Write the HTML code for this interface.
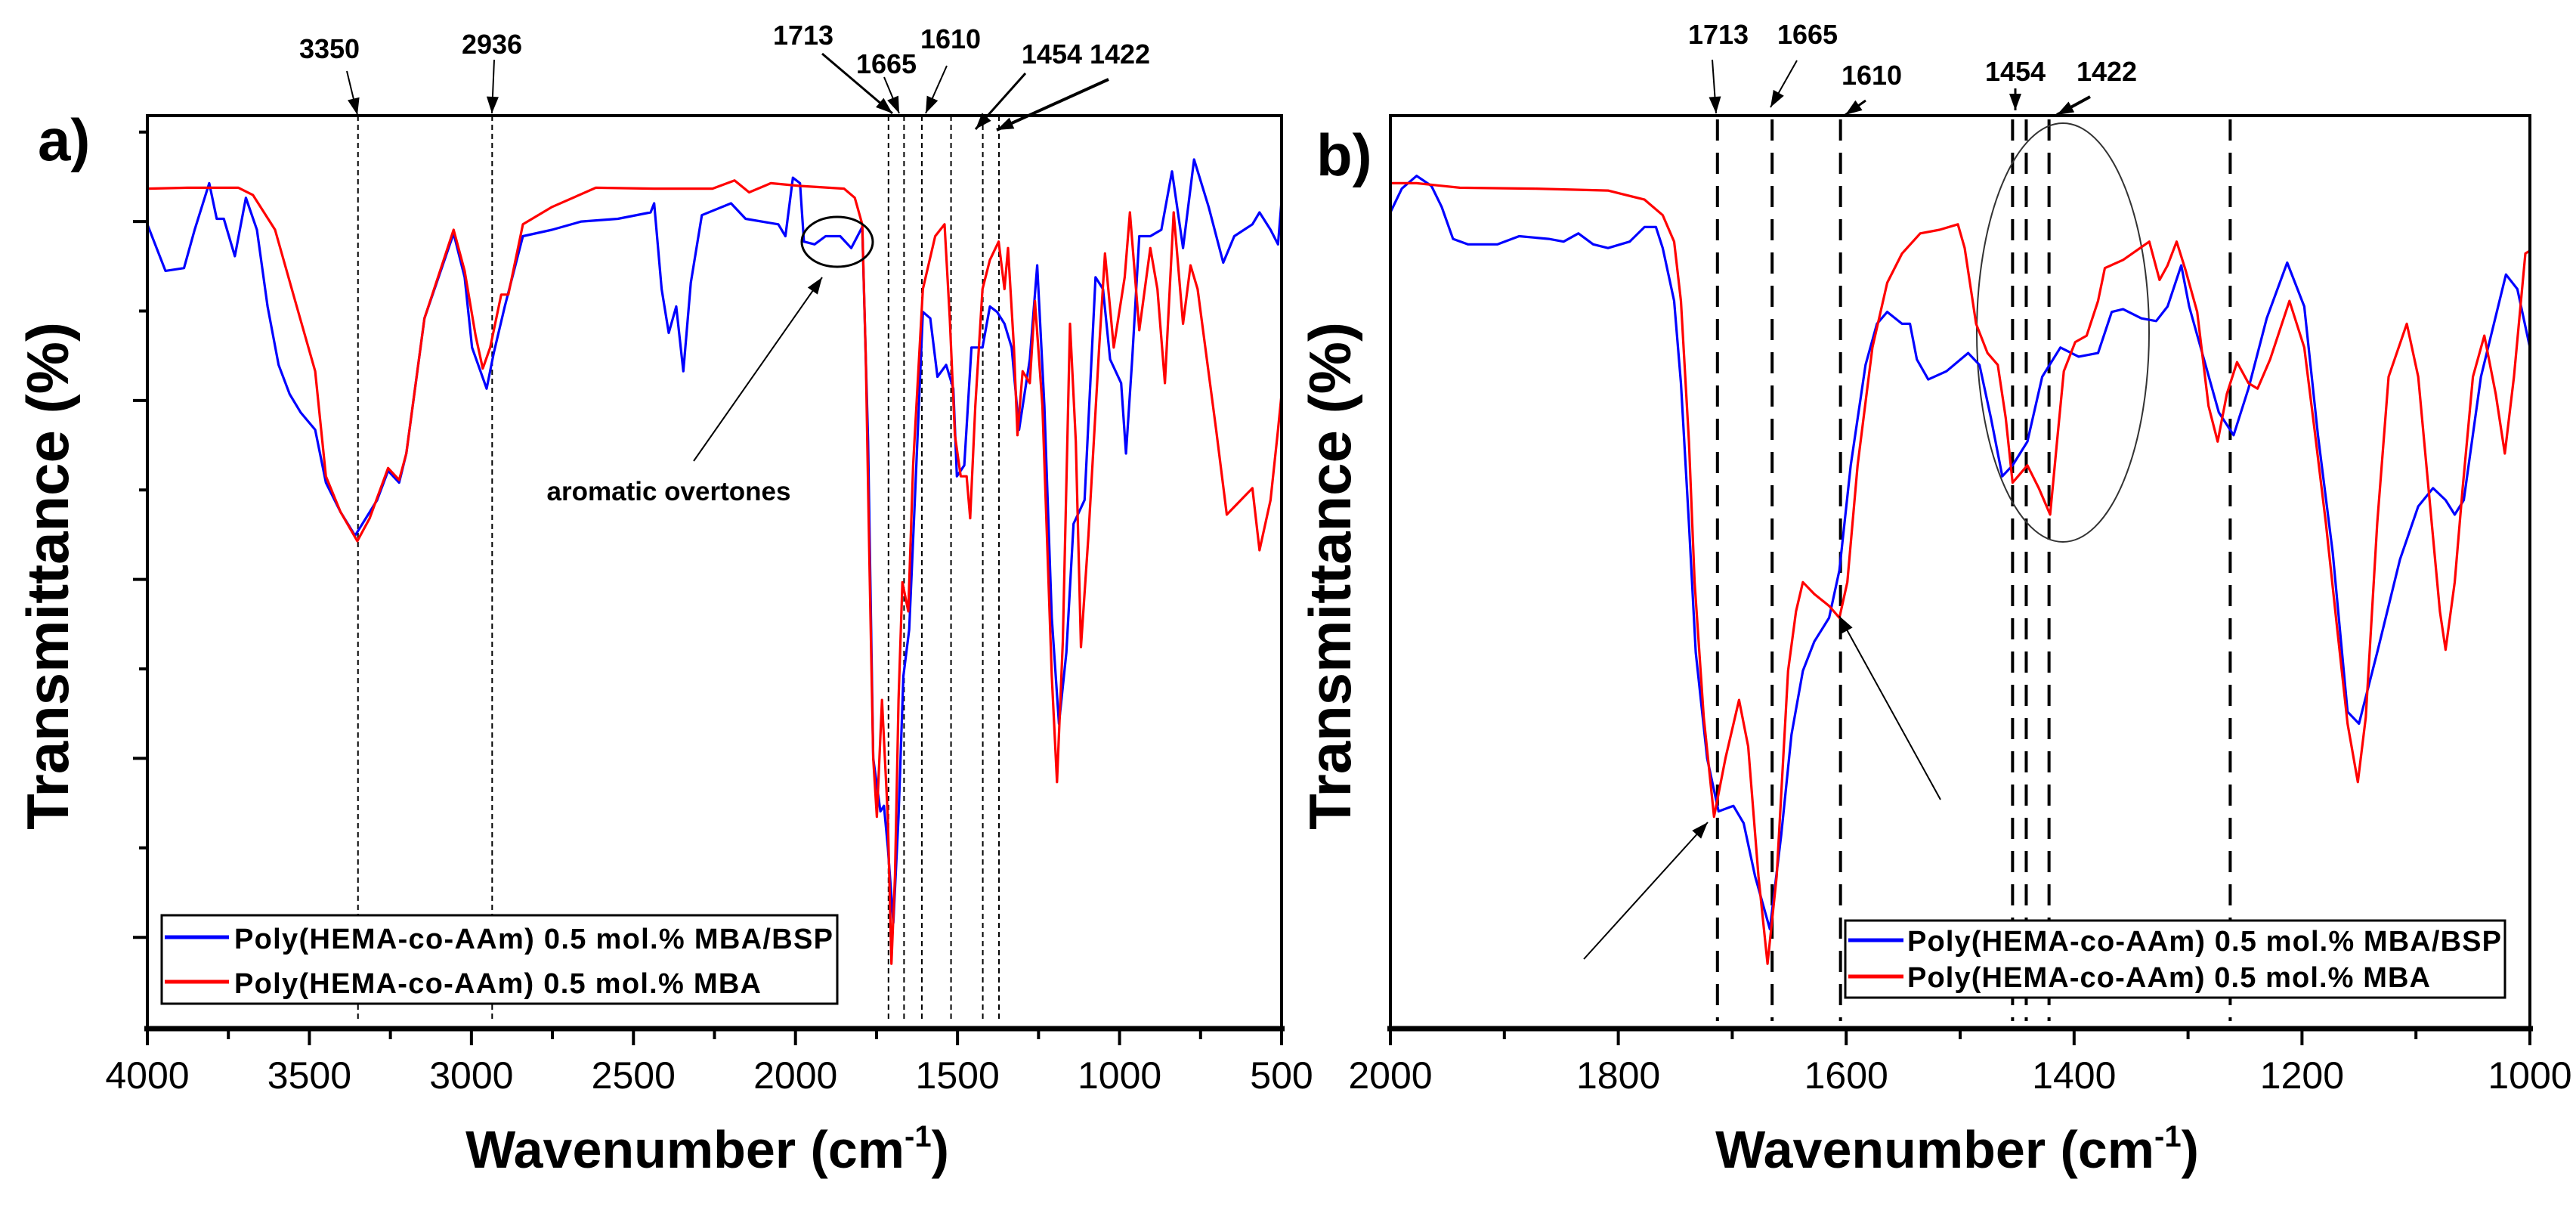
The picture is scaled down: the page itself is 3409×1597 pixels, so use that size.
<!DOCTYPE html>
<html><head><meta charset="utf-8"><style>
html,body{margin:0;padding:0;background:#fff;}
svg{display:block;font-family:"Liberation Sans",Arial,sans-serif;}
</style></head><body>
<svg id="chart" width="3409" height="1597" viewBox="0 0 3409 1597" xmlns="http://www.w3.org/2000/svg">
<defs>
<marker id="ah" viewBox="0 0 10 10" refX="9" refY="5" markerWidth="7" markerHeight="7" orient="auto-start-reverse" markerUnits="userSpaceOnUse" style="overflow:visible">
<path d="M0,0 L10,5 L0,10 z" fill="#000" transform="scale(2.4) translate(-6,-5) translate(0,0)"/>
</marker>
</defs>
<g id="root"></g>
</svg>
<script>
// ---------- DATA: panel a (full range) ----------
const aRedW = [4000,3876,3719,3674,3606,3539,3482,3449,3404,3352,3314,3257,3223,3201,3145,3055,3021,2987,2965,2942,2908,2886,2841,2751,2616,2436,2256,2188,2143,2076,1986,1850,1817,1794,1783,1772,1760,1749,1733,1715,1704,1693,1682,1670,1652,1637,1607,1569,1540,1524,1508,1490,1472,1461,1445,1423,1400,1373,1355,1344,1326,1315,1299,1277,1261,1238,1209,1193,1175,1153,1135,1119,1096,1063,1045,1018,984,968,939,905,883,860,833,804,781,759,702,669,590,568,534,511,500];
const aRedT = [92.0,92.1,92.1,91.3,87.5,79.1,72.0,60.5,56.6,53.4,55.9,61.4,60.1,63.0,77.8,87.5,83.0,75.9,72.3,74.6,80.4,80.4,88.1,90.0,92.1,92.0,92.0,92.9,91.6,92.6,92.3,92.0,91.0,88.1,73.3,51.4,29.6,23.2,36.0,23.2,7.1,16.7,36.0,48.9,45.7,61.7,81.0,86.8,88.1,77.8,65.0,60.5,60.5,55.9,68.2,81.0,84.2,86.2,81.0,85.5,74.6,65.0,72.0,70.7,79.7,68.2,38.6,27.0,42.4,77.2,64.3,41.8,54.0,74.6,84.9,74.6,82.3,89.4,76.5,85.5,81.0,70.7,89.4,77.2,83.6,81.0,65.6,56.3,59.2,52.4,57.9,65.6,69.5];
const aBlueW = [4000,3944,3887,3854,3809,3786,3764,3730,3696,3662,3629,3595,3561,3527,3482,3449,3404,3359,3291,3257,3223,3201,3145,3055,3021,2998,2953,2931,2897,2841,2751,2661,2548,2447,2436,2413,2391,2368,2346,2323,2289,2199,2154,2053,2031,2008,1986,1974,1941,1907,1862,1828,1794,1783,1776,1760,1738,1727,1715,1698,1682,1667,1649,1631,1607,1584,1562,1535,1513,1502,1479,1457,1423,1400,1378,1355,1333,1310,1277,1254,1232,1209,1187,1164,1142,1108,1074,1051,1029,995,980,961,939,905,871,838,804,770,725,680,646,590,568,534,511,500];
const aBlueT = [88.1,83.0,83.3,87.5,92.6,88.7,88.7,84.6,91.0,87.5,79.1,72.7,69.5,67.5,65.6,59.8,56.6,54.0,57.9,61.1,59.8,63.0,77.8,87.1,82.3,74.6,70.1,74.0,79.1,86.8,87.5,88.4,88.7,89.4,90.4,81.0,76.2,79.1,72.0,81.7,89.1,90.4,88.7,88.1,86.8,93.2,92.6,86.2,85.9,86.8,86.8,85.5,87.8,73.3,64.3,29.6,23.8,24.4,19.9,11.6,23.2,38.6,43.7,58.5,78.5,77.8,71.4,72.7,70.1,60.5,61.7,74.6,74.6,79.1,78.5,77.2,74.6,65.6,73.3,83.6,68.2,45.0,33.4,41.2,55.3,57.9,82.3,81.0,73.3,70.7,63.0,73.3,86.8,86.8,87.5,93.9,85.5,95.2,90.0,83.9,86.8,88.1,89.4,87.5,85.9,90.7];
// ---------- DATA: panel b (2000-1000) ----------
const bRedW = [2000,1977,1939,1874,1809,1777,1761,1751,1745,1738,1733,1725,1716,1706,1694,1686,1677,1669,1661,1651,1644,1638,1628,1615,1606,1599,1590,1577,1564,1551,1535,1518,1502,1496,1486,1476,1467,1460,1454,1441,1431,1421,1415,1409,1399,1389,1379,1373,1357,1334,1325,1318,1310,1302,1292,1282,1274,1266,1257,1247,1239,1228,1211,1198,1189,1179,1169,1160,1151,1144,1134,1124,1108,1098,1089,1079,1074,1066,1059,1050,1040,1030,1022,1014,1004,1000];
const bRedT = [92.6,92.6,92.1,92.0,91.8,90.8,89.1,86.2,79.7,64.3,48.9,34.1,23.2,29.6,36.0,30.9,16.7,7.1,16.7,39.2,45.7,48.9,47.6,46.3,45.0,48.9,61.7,74.6,81.7,84.9,87.1,87.5,88.1,85.5,77.2,74.0,72.7,66.9,59.8,61.7,59.2,56.3,64.3,72.0,75.2,75.9,79.7,83.3,84.2,86.2,82.0,83.6,86.2,83.0,78.5,68.2,64.3,69.5,73.0,70.7,70.1,73.3,79.7,74.6,65.6,55.3,43.7,33.4,27.0,34.1,55.3,71.4,77.2,71.4,59.2,45.7,41.5,48.9,59.2,71.4,75.9,69.5,63.0,71.4,84.9,85.2];
const bBlueW = [2000,1990,1977,1964,1955,1945,1932,1906,1887,1861,1848,1835,1822,1809,1790,1777,1767,1761,1751,1745,1738,1732,1722,1712,1699,1690,1680,1667,1657,1648,1638,1628,1615,1606,1596,1583,1573,1564,1551,1544,1538,1528,1512,1493,1483,1473,1463,1454,1441,1428,1412,1396,1379,1367,1357,1341,1328,1318,1306,1299,1286,1273,1260,1247,1231,1213,1198,1186,1173,1160,1150,1134,1114,1098,1085,1074,1066,1058,1043,1021,1011,1000];
const bBlueT = [89.4,92.0,93.4,92.3,90.0,86.5,85.9,85.9,86.8,86.5,86.2,87.1,85.9,85.5,86.2,87.8,87.8,85.5,79.7,70.7,55.3,41.2,29.6,23.8,24.4,22.5,16.7,10.9,21.2,32.2,39.2,42.4,45.0,50.2,61.7,72.7,77.2,78.5,77.2,77.2,73.3,71.1,72.0,74.0,72.7,66.9,60.5,61.7,64.3,71.4,74.6,73.6,74.0,78.5,78.8,77.8,77.5,79.1,83.6,79.1,73.3,67.5,65.0,70.1,77.8,83.9,79.1,65.0,52.1,34.7,33.4,41.2,51.4,57.2,59.2,57.9,56.3,57.9,71.4,82.6,81.0,74.6];
// ticks / labels
const aXTicks = [4000,3500,3000,2500,2000,1500,1000,500];
const aXMinor = [3750,3250,2750,2250,1750,1250,750];
const bXTicks = [2000,1800,1600,1400,1200,1000];
const bXMinor = [1900,1700,1500,1300,1100];
const aYTicks = [98.2,88.4,78.6,68.8,59.0,49.2,39.4,29.6,19.8,10.0];
const aPeaks = [3350,2936,1713,1665,1610,1520,1422,1372];
const bPeaks = [1713,1665,1605,1454,1442,1422,1263];
const legendLabels = ["Poly(HEMA-co-AAm) 0.5 mol.% MBA/BSP","Poly(HEMA-co-AAm) 0.5 mol.% MBA"];

const NS="http://www.w3.org/2000/svg";
const root=document.getElementById('root');
function mk(tag,attrs,parent){const e=document.createElementNS(NS,tag);for(const k in attrs)e.setAttribute(k,attrs[k]);(parent||root).appendChild(e);return e;}
const TOP=153,BOT=1361;
function yS(v){return BOT-(v/100)*(BOT-TOP);}
function xA(w){return 195+(4000-w)/3500*(1696-195);}
function xB(w){return 1840+(2000-w)/1000*(3348-1840);}

function series(W,T,xf,color,name){
  let d='';for(let i=0;i<W.length;i++){d+=(i?'L':'M')+xf(W[i]).toFixed(1)+','+yS(T[i]).toFixed(1);}
  const p=mk('path',{d:d,fill:'none',stroke:color,'stroke-width':3.2,'stroke-linejoin':'round'});
  
  
}
function text(x,y,s,size,weight,anchor,name,extra){
  const t=mk('text',Object.assign({x:x,y:y,'font-size':size,'font-weight':weight,'text-anchor':anchor,fill:'#000'},extra||{}));
  t.textContent=s;
  
  
  return t;
}
function arrow(x1,y1,x2,y2,w,name){
  const l=mk('line',{x1:x1,y1:y1,x2:x2,y2:y2,stroke:'#000','stroke-width':w});
  
  
  const a=Math.atan2(y2-y1,x2-x1),L=22,H=8;
  const bx=x2-L*Math.cos(a),by=y2-L*Math.sin(a);
  const p=mk('polygon',{points:`${x2},${y2} ${bx+H*Math.sin(a)},${by-H*Math.cos(a)} ${bx-H*Math.sin(a)},${by+H*Math.cos(a)}`,fill:'#000'});
  
  
}

// ===== Panel a =====
aPeaks.forEach(w=>{const l=mk('line',{x1:xA(w),y1:TOP,x2:xA(w),y2:1351,stroke:'#000','stroke-width':2,'stroke-dasharray':'7,5'});
  
  });
series(aBlueW,aBlueT,xA,'#0000ff','series-a-mba-bsp');
series(aRedW,aRedT,xA,'#ff0000','series-a-mba');
const fa=mk('rect',{x:195,y:TOP,width:1501,height:BOT-TOP,fill:'none',stroke:'#000','stroke-width':4});


mk('line',{x1:191,y1:BOT,x2:1700,y2:BOT,stroke:'#000','stroke-width':7});
aXTicks.forEach(w=>{mk('line',{x1:xA(w),y1:BOT,x2:xA(w),y2:BOT+22,stroke:'#000','stroke-width':4});
  text(xA(w),1440,String(w),50,'normal','middle','x-tick-label-a');});
aXMinor.forEach(w=>{mk('line',{x1:xA(w),y1:BOT,x2:xA(w),y2:BOT+14,stroke:'#000','stroke-width':4});});
aYTicks.forEach((v,i)=>{mk('line',{x1:i%2?176:184,y1:yS(v),x2:195,y2:yS(v),stroke:'#000','stroke-width':4});});
text(936,1545,'Wavenumber (cm',70,'bold','middle','x-axis-title-a').innerHTML='Wavenumber (cm<tspan dy="-28" font-size="40">-1</tspan><tspan dy="28">)</tspan>';
text(0,0,'Transmittance (%)',78,'bold','middle','y-axis-title-a',{transform:'translate(90,762) rotate(-90)'});
text(50,212,'a)',78,'bold','start','panel-label-a');
// top annotations a
text(436,77,'3350',36,'bold','middle','peak-label-3350');
text(651,71,'2936',36,'bold','middle','peak-label-2936');
text(1063,59,'1713',36,'bold','middle','peak-label-1713');
text(1173,97,'1665',36,'bold','middle','peak-label-1665');
text(1258,64,'1610',36,'bold','middle','peak-label-1610');
text(1437,84,'1454 1422',36,'bold','middle','peak-label-1454-1422');
arrow(459,94,473,152,2,'arrow-3350');
arrow(654,79,651,150,2,'arrow-2936');
arrow(1088,71,1181,150,3,'arrow-1713');
arrow(1170,102,1190,150,2,'arrow-1665');
arrow(1253,87,1225,150,2,'arrow-1610');
arrow(1357,97,1291,171,3,'arrow-1454');
arrow(1467,105,1319,172,4,'arrow-1422');
const ov=mk('ellipse',{cx:1108,cy:320,rx:47,ry:33,fill:'none',stroke:'#000','stroke-width':3});


arrow(918,610,1088,367,2,'arrow-aromatic');
text(885,662,'aromatic overtones',35,'bold','middle','annotation-aromatic-overtones');
// legend a
const la=mk('rect',{x:214,y:1211,width:894,height:117,fill:'#fff',stroke:'#000','stroke-width':3});


mk('line',{x1:218,y1:1240,x2:303,y2:1240,stroke:'#0000ff','stroke-width':5});
mk('line',{x1:218,y1:1299,x2:303,y2:1299,stroke:'#ff0000','stroke-width':5});
text(310,1255,legendLabels[0],38,'bold','start','legend-entry-a-bsp',{textLength:792});
text(310,1314,legendLabels[1],38,'bold','start','legend-entry-a-mba',{textLength:697});

// ===== Panel b =====
bPeaks.forEach(w=>{const l=mk('line',{x1:xB(w),y1:TOP+5,x2:xB(w),y2:1351,stroke:'#000','stroke-width':4,'stroke-dasharray':'28,16'});
  
  });
const el=mk('ellipse',{cx:2730,cy:440,rx:114,ry:277,fill:'none',stroke:'#333','stroke-width':2});


series(bBlueW,bBlueT,xB,'#0000ff','series-b-mba-bsp');
series(bRedW,bRedT,xB,'#ff0000','series-b-mba');
const fb=mk('rect',{x:1840,y:TOP,width:1508,height:BOT-TOP,fill:'none',stroke:'#000','stroke-width':4});


mk('line',{x1:1836,y1:BOT,x2:3352,y2:BOT,stroke:'#000','stroke-width':7});
bXTicks.forEach(w=>{mk('line',{x1:xB(w),y1:BOT,x2:xB(w),y2:BOT+22,stroke:'#000','stroke-width':4});
  text(xB(w),1440,String(w),50,'normal','middle','x-tick-label-b');});
bXMinor.forEach(w=>{mk('line',{x1:xB(w),y1:BOT,x2:xB(w),y2:BOT+14,stroke:'#000','stroke-width':4});});
text(2590,1545,'Wavenumber',70,'bold','middle','x-axis-title-b').innerHTML='Wavenumber (cm<tspan dy="-28" font-size="40">-1</tspan><tspan dy="28">)</tspan>';
text(0,0,'Transmittance (%)',78,'bold','middle','y-axis-title-b',{transform:'translate(1787,762) rotate(-90)'});
text(1742,232,'b)',78,'bold','start','panel-label-b');
text(2274,58,'1713',36,'bold','middle','peak-label-b-1713');
text(2392,58,'1665',36,'bold','middle','peak-label-b-1665');
text(2477,112,'1610',36,'bold','middle','peak-label-b-1610');
text(2667,107,'1454',36,'bold','middle','peak-label-b-1454');
text(2788,107,'1422',36,'bold','middle','peak-label-b-1422');
arrow(2266,79,2271,150,2,'arrow-b-1713');
arrow(2378,80,2343,142,2,'arrow-b-1665');
arrow(2469,133,2442,152,3,'arrow-b-1610');
arrow(2667,117,2667,146,3,'arrow-b-1454');
arrow(2766,128,2722,152,4,'arrow-b-1422');
arrow(2096,1269,2260,1088,2,'arrow-b-shoulder');
arrow(2568,1058,2434,815,2,'arrow-b-1610-band');
// legend b
const lb=mk('rect',{x:2442,y:1218,width:873,height:102,fill:'#fff',stroke:'#000','stroke-width':3});


mk('line',{x1:2446,y1:1244,x2:2519,y2:1244,stroke:'#0000ff','stroke-width':5});
mk('line',{x1:2446,y1:1292,x2:2519,y2:1292,stroke:'#ff0000','stroke-width':5});
text(2524,1258,legendLabels[0],38,'bold','start','legend-entry-b-bsp',{textLength:786});
text(2524,1306,legendLabels[1],38,'bold','start','legend-entry-b-mba',{textLength:692});
</script>
</body></html>
